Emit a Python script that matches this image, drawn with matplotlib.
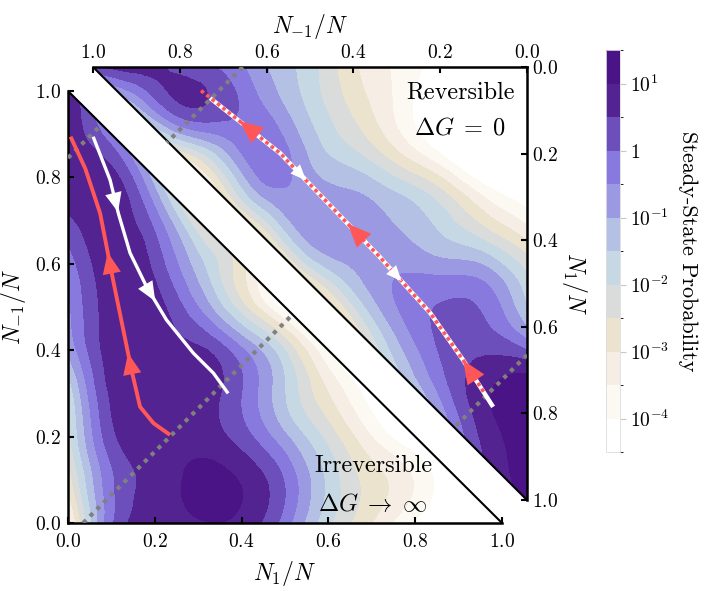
import numpy as np
import matplotlib
matplotlib.use('Agg')
import matplotlib.pyplot as plt
import matplotlib.tri as mtri
from matplotlib.colors import ListedColormap, BoundaryNorm

plt.rcParams['font.family'] = 'cmr10'
plt.rcParams['mathtext.fontset'] = 'cm'
plt.rcParams['axes.formatter.use_mathtext'] = True

# log10 steady-state probability, rows of N_{-1}/N = 0.0 .. 1.0, columns N_1/N = 0.0 .. 1-row
irrev_rows = [
    [-3.8, -0.1, 0.8, 0.95, 0.85, -0.25, -1.9, -3.0, -4.1, -4.8, -5.0],
    [-2.8, -0.1, 0.7, 1.15, 0.95, -0.05, -1.65, -2.75, -3.55, -4.6],
    [-2.2, 0.35, 0.85, 0.8, 0.25, -0.9, -2.2, -3.5, -4.6],
    [-1.9, 0.6, 0.9, 0.75, 0.0, -1.5, -3.0, -4.3],
    [-0.9, 0.75, 0.85, 0.6, -0.4, -2.0, -4.0],
    [-0.6, 0.8, 0.75, -0.5, -2.3, -4.3],
    [-0.3, 0.85, 0.35, -1.3, -2.8],
    [0.4, 0.8, -0.2, -2.5],
    [0.7, 0.7, -1.3],
    [0.9, -0.3],
    [1.05],
]
# reversible case, rows of N_1/N = 0.0 .. 1.0, columns N_{-1}/N = 0.0 .. 1-row
rev_rows = [
    [-5.0, -5.0, -4.3, -3.6, -2.9, -1.8, -1.0, -0.1, 0.3, 0.75, 0.4],
    [-5.0, -5.0, -4.6, -3.6, -2.6, -1.6, -0.5, 0.2, 0.3, -1.3],
    [-5.0, -5.0, -4.0, -2.9, -1.9, -1.1, -0.1, -1.2, -2.8],
    [-4.3, -3.5, -2.2, -1.4, -0.9, -0.7, -0.9, -3.0],
    [-3.0, -2.0, -1.4, -0.9, -0.7, -0.9, -3.0],
    [-1.8, -0.45, -0.3, -0.45, -1.3, -3.0],
    [-1.0, 0.1, 0.1, -0.8, -2.8],
    [0.9, 0.7, -0.1, -1.6],
    [1.3, 0.8, -0.8],
    [1.3, 0.5],
    [1.2],
]

level_exps = [-4.5, -4.0, -3.5, -3.0, -2.5, -2.0, -1.5, -1.0, -0.5, 0.0, 0.5, 1.0, 1.5]
band_colors = ['#ffffff', '#fcf9f3', '#f6eee5', '#ece3ce', '#d9dcda', '#c6d8e4',
               '#b4c1e4', '#9b99e1', '#8879df', '#6c4fbb', '#532392', '#4a1486']
cbar_ticks = [1, 0, -1, -2, -3, -4]
cbar_labels = [r'$10^{1}$', r'$1$', r'$10^{-1}$', r'$10^{-2}$', r'$10^{-3}$', r'$10^{-4}$']

# trajectories (irreversible panel: x = N_1/N, y = N_{-1}/N)
irr_red_x = [0.235, 0.197, 0.166, 0.145, 0.135, 0.104, 0.074, 0.040, 0.006]
irr_red_y = [0.204, 0.231, 0.269, 0.360, 0.410, 0.562, 0.717, 0.820, 0.894]
irr_white_x = [0.058, 0.097, 0.116, 0.143, 0.181, 0.227, 0.289, 0.335, 0.369]
irr_white_y = [0.894, 0.794, 0.717, 0.625, 0.547, 0.470, 0.393, 0.347, 0.300]
irr_red_arrows = [0.30, 0.62]
irr_white_arrows = [0.27, 0.60]
irr_dotted = [([0.035, 0.515], [0.0, 0.48]), ([0.0, 0.075], [0.845, 0.92])]

# reversible panel: x = N_{-1}/N, y = N_1/N
rev_white_x = [0.730, 0.569, 0.415, 0.339, 0.223, 0.147, 0.078]
rev_white_y = [0.072, 0.199, 0.360, 0.439, 0.568, 0.677, 0.785]
rev_red_x = [0.100, 0.147, 0.223, 0.339, 0.415, 0.569, 0.753]
rev_red_y = [0.750, 0.677, 0.568, 0.439, 0.360, 0.199, 0.053]
rev_white_arrows = [0.30, 0.63]
rev_red_arrows = [0.09, 0.52, 0.88]
rev_dotted = [([0.655, 0.83], [0.0, 0.175]), ([0.0, 0.17], [0.665, 0.835])]


def grid_field(rows):
    step = 1.0 / (len(rows) - 1)
    xs, ys, zs = [], [], []
    for j, row in enumerate(rows):
        for i, v in enumerate(row):
            xs.append(i * step)
            ys.append(j * step)
            zs.append(v)
    tri = mtri.Triangulation(np.array(xs), np.array(ys))
    # smoother contour edges
    refiner = mtri.UniformTriRefiner(tri)
    return refiner.refine_field(np.array(zs), subdiv=3)


def add_arrow(ax, xs, ys, frac, color, size):
    xs = np.asarray(xs)
    ys = np.asarray(ys)
    d = np.hypot(np.diff(xs), np.diff(ys))
    s = np.concatenate([[0], np.cumsum(d)]) / d.sum()
    x0, y0 = np.interp(frac - 0.03, s, xs), np.interp(frac - 0.03, s, ys)
    x1, y1 = np.interp(frac, s, xs), np.interp(frac, s, ys)
    ax.annotate('', xy=(x1, y1), xytext=(x0, y0),
                arrowprops=dict(arrowstyle='-|>,head_length=0.7,head_width=0.3',
                                color=color, lw=0, mutation_scale=size,
                                shrinkA=0, shrinkB=0), zorder=6)


cmap = ListedColormap(band_colors)
norm = BoundaryNorm(level_exps, cmap.N)
red = '#ff5757'
grey = '#808080'

fig = plt.figure(figsize=(7.06, 5.91), dpi=100)
ax_lo = fig.add_axes([0.0963, 0.1151, 0.6147, 0.731])
ax_up = fig.add_axes([0.1317, 0.154, 0.6147, 0.7327])
cax = fig.add_axes([0.8584, 0.2352, 0.0198, 0.680])

# ---- irreversible (lower-left) ----
tri, z = grid_field(irrev_rows)
cf = ax_lo.tricontourf(tri, z, levels=level_exps, cmap=cmap, norm=norm)
ax_lo.plot([0, 1], [1, 0], color='black', lw=1.5, zorder=4)
for dx, dy in irr_dotted:
    ax_lo.plot(dx, dy, color=grey, lw=3, ls=(0, (1, 1.3)), zorder=4)
ax_lo.plot(irr_white_x, irr_white_y, color='white', lw=2.4, zorder=5, solid_capstyle='butt')
ax_lo.plot(irr_red_x, irr_red_y, color=red, lw=2.8, zorder=5, solid_capstyle='butt')
for f in irr_red_arrows:
    add_arrow(ax_lo, irr_red_x, irr_red_y, f, red, 22)
for f in irr_white_arrows:
    add_arrow(ax_lo, irr_white_x, irr_white_y, f, 'white', 20)
ax_lo.text(0.703, 0.132, 'Irreversible', fontsize=17.5, ha='center', va='center')
ax_lo.text(0.702, 0.042, r'$\Delta G\;\rightarrow\;\infty$', fontsize=17.5, ha='center', va='center')

ax_lo.set_xlim(0, 1)
ax_lo.set_ylim(0, 1)
ax_lo.patch.set_visible(False)
for side in ['top', 'right']:
    ax_lo.spines[side].set_visible(False)
for side in ['left', 'bottom']:
    ax_lo.spines[side].set_linewidth(1.8)
ax_lo.set_xticks([0, 0.2, 0.4, 0.6, 0.8, 1.0])
ax_lo.set_yticks([0, 0.2, 0.4, 0.6, 0.8, 1.0])
ax_lo.tick_params(direction='in', length=4, width=1.5, labelsize=14)
ax_lo.tick_params(axis='x', pad=7)
ax_lo.tick_params(axis='y', pad=5)
ax_lo.set_xlabel(r'$N_1/N$', fontsize=17, labelpad=6)
ax_lo.set_ylabel(r'$N_{-1}/N$', fontsize=17, labelpad=5)

# ---- reversible (upper-right) ----
tri, z = grid_field(rev_rows)
ax_up.tricontourf(tri, z, levels=level_exps, cmap=cmap, norm=norm)
ax_up.plot([1, 0], [0, 1], color='black', lw=1.5, zorder=4)
for dx, dy in rev_dotted:
    ax_up.plot(dx, dy, color=grey, lw=3, ls=(0, (1, 1.3)), zorder=4)
ax_up.plot(rev_white_x, rev_white_y, color='white', lw=3.2, zorder=5, solid_capstyle='butt')
ax_up.plot(rev_red_x, rev_red_y, color=red, lw=2.6, ls=(0, (1, 0.9)), zorder=5)
for f in rev_white_arrows:
    add_arrow(ax_up, rev_white_x, rev_white_y, f, 'white', 16)
for f in rev_red_arrows:
    add_arrow(ax_up, rev_red_x, rev_red_y, f, red, 24)
ax_up.text(0.154, 0.058, 'Reversible', fontsize=17.5, ha='center', va='center')
ax_up.text(0.154, 0.141, r'$\Delta G\;=\;0$', fontsize=17.5, ha='center', va='center')

ax_up.set_xlim(1, 0)
ax_up.set_ylim(1, 0)
ax_up.patch.set_visible(False)
for side in ['left', 'bottom']:
    ax_up.spines[side].set_visible(False)
for side in ['top', 'right']:
    ax_up.spines[side].set_linewidth(1.8)
ax_up.xaxis.tick_top()
ax_up.yaxis.tick_right()
ax_up.xaxis.set_label_position('top')
ax_up.yaxis.set_label_position('right')
ax_up.set_xticks([0, 0.2, 0.4, 0.6, 0.8, 1.0])
ax_up.set_yticks([0, 0.2, 0.4, 0.6, 0.8, 1.0])
ax_up.tick_params(direction='in', length=4, width=1.5, labelsize=14)
ax_up.set_xlabel(r'$N_{-1}/N$', fontsize=17, labelpad=8)
ax_up.set_ylabel(r'$N_1/N$', fontsize=17, rotation=270, labelpad=22)

# ---- colorbar ----
cb = fig.colorbar(cf, cax=cax, ticks=cbar_ticks)
cb.set_ticklabels(cbar_labels)
cb.outline.set_linewidth(0.6)
cb.outline.set_edgecolor('#dddddd')
cax.tick_params(length=4, width=0.8, color='#c8c8c8', labelsize=14)
cb.set_label('Steady-State Probability', rotation=270, fontsize=16, labelpad=20)

fig.savefig('out.png', dpi=100)
